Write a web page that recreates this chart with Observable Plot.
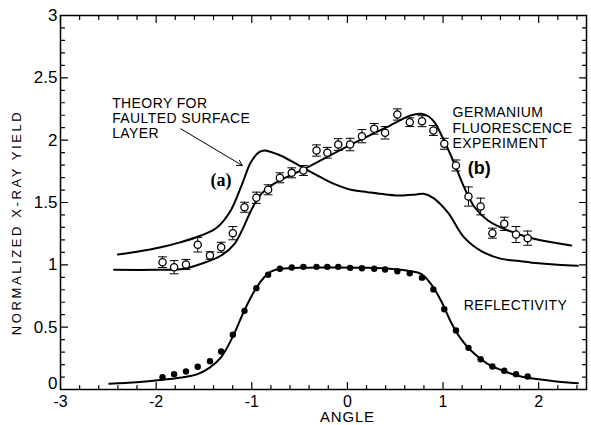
<!DOCTYPE html>
<html><head><meta charset="utf-8">
<script src="https://cdn.jsdelivr.net/npm/d3@7"></script>
<script src="https://cdn.jsdelivr.net/npm/@observablehq/plot@0.6"></script>
<style>
body{margin:0;background:#fff;}
#chart{width:591px;height:425px;}
</style></head><body><div id="chart"></div>
<script>
// measured angles of the experimental points
const expAngle = [-1.933,-1.812,-1.688,-1.565,-1.437,-1.32,-1.198,-1.076,-0.952,-0.829,-0.706,-0.582,-0.46,-0.323,-0.21,-0.096,0.028,0.152,0.28,0.394,0.522,0.652,0.78,0.899,1.013,1.135,1.266,1.393,1.516,1.64,1.763,1.885];
// germanium fluorescence (open circles) and error
const fluorYield = [1.021,0.981,1.003,1.161,1.075,1.141,1.254,1.462,1.538,1.602,1.698,1.738,1.757,1.917,1.899,1.965,1.965,2.032,2.091,2.059,2.206,2.144,2.152,2.078,1.971,1.797,1.548,1.468,1.254,1.329,1.243,1.214];
const fluorErr = [0.043,0.053,0.04,0.058,0.03,0.04,0.053,0.04,0.045,0.04,0.04,0.04,0.04,0.045,0.043,0.047,0.05,0.053,0.043,0.05,0.045,0.035,0.044,0.04,0.044,0.044,0.077,0.067,0.04,0.053,0.064,0.057];
// reflectivity (filled dots)
const reflYield = [0.099,0.123,0.144,0.182,0.227,0.305,0.439,0.631,0.813,0.92,0.968,0.979,0.984,0.984,0.984,0.984,0.976,0.973,0.968,0.962,0.949,0.933,0.897,0.803,0.644,0.473,0.334,0.243,0.184,0.150,0.123,0.104];

// theory curve for reflectivity
const reflCurveX = [-2.49,-2.2,-1.93,-1.7,-1.56,-1.44,-1.32,-1.195,-1.08,-0.954,-0.87,-0.8,-0.7,-0.5,-0.2,0.2,0.5,0.65,0.77,0.873,0.978,1.083,1.187,1.292,1.466,1.64,1.815,2.163,2.41];
const reflCurveY = [0.046,0.058,0.078,0.1,0.125,0.175,0.26,0.43,0.63,0.813,0.9,0.945,0.968,0.976,0.978,0.976,0.965,0.95,0.928,0.848,0.714,0.54,0.406,0.313,0.206,0.147,0.104,0.067,0.051];
// theory (b) germanium fluorescence
const fluorCurveX = [-2.44,-2.0,-1.71,-1.53,-1.32,-1.18,-1.1,-1.04,-0.97,-0.9,-0.77,-0.56,-0.46,0,0.4,0.66,0.77,0.85,0.91,1.01,1.12,1.22,1.33,1.47,1.68,1.95,2.34];
const fluorCurveY = [0.96,0.96,0.968,1.008,1.075,1.169,1.28,1.382,1.49,1.57,1.65,1.73,1.765,1.95,2.1,2.198,2.211,2.19,2.144,1.997,1.81,1.623,1.462,1.356,1.275,1.209,1.155];
// theory (a) faulted surface layer
const faultCurveX = [-2.4,-2.2,-1.95,-1.75,-1.53,-1.36,-1.22,-1.1,-1.01,-0.93,-0.87,-0.8,-0.7,-0.49,-0.28,-0.14,0.05,0.21,0.4,0.56,0.72,0.8,0.9,1.05,1.22,1.4,1.6,1.8,2.0,2.2,2.41];
const faultCurveY = [1.083,1.105,1.141,1.18,1.235,1.302,1.436,1.65,1.823,1.9,1.917,1.905,1.877,1.79,1.703,1.65,1.6,1.583,1.565,1.556,1.565,1.57,1.535,1.42,1.22,1.11,1.05,1.03,1.012,1.0,0.992];

const xTickLabels = [-3,-2,-1,0,1,2];
const yTickLabels = [0,0.5,1,1.5,2,2.5,3];

const noteText = ["THEORY FOR","FAULTED SURFACE","LAYER","GERMANIUM","FLUORESCENCE","EXPERIMENT","REFLECTIVITY"];
const noteX = [-2.46,-2.46,-2.46,1.1,1.1,1.1,1.216];
const noteY = [2.295,2.172,2.051,2.222,2.097,1.971,0.674];
const arrowFrom = [-1.742,2.091];
const arrowTo = [-1.099,1.797];
const yTitle = "NORMALIZED X-RAY YIELD";
const yTitlePos = [-3.457, 1.34];
const xTitle = "ANGLE";
const xTitlePos = [0, -0.225];

const pts = expAngle.map((a,i)=>({a, f: fluorYield[i], e: fluorErr[i], r: reflYield[i]}));
const line = (xs, ys) => xs.map((x,i)=>({x, y: ys[i]}));

const xMinor = d3.range(-3, 2.51, 0.2).map(v=>+v.toFixed(2)).filter(v=>Math.abs(v - Math.round(v))>1e-6);
const yMinor = d3.range(0, 3.001, 0.1).map(v=>+v.toFixed(2)).filter(v=>Math.abs(v*2 - Math.round(v*2))>1e-6);

const tickShape = {draw(ctx, l){ ctx.moveTo(0,0); ctx.lineTo(0,-l); }};
const capShape = {draw(ctx, l){ ctx.moveTo(0,-l/2); ctx.lineTo(0,l/2); }};
function ticks(vals, side, len){
  const o = {length: len, anchor: "start", shape: tickShape, strokeWidth: 1.2};
  if (side==="bottom") return Plot.vector(vals, {x: d=>d, y: 0, rotate: 0, ...o});
  if (side==="top") return Plot.vector(vals, {x: d=>d, y: 3, rotate: 180, ...o});
  if (side==="left") return Plot.vector(vals, {x: -3, y: d=>d, rotate: 90, ...o});
  return Plot.vector(vals, {x: 2.5, y: d=>d, rotate: -90, ...o});
}

const font = "'Liberation Sans', Arial, sans-serif";
const chart = Plot.plot({
  width: 591, height: 425,
  marginLeft: 60, marginRight: 5, marginTop: 15, marginBottom: 36,
  style: {fontFamily: font, background: "#fff", color: "#000"},
  x: {domain: [-3, 2.5]},
  y: {domain: [0, 3]},
  marks: [
    Plot.frame({stroke: "#000", strokeWidth: 1.5}),
    ticks(xTickLabels, "bottom", 7), ticks(xMinor, "bottom", 4),
    ticks(xTickLabels, "top", 7), ticks(xMinor, "top", 4),
    ticks(yTickLabels, "left", 7), ticks(yMinor, "left", 4),
    ticks(yTickLabels, "right", 7), ticks(yMinor, "right", 4),
    Plot.axisX({ticks: xTickLabels, tickSize: 0, tickPadding: 6, fontSize: 16, label: null, tickFormat: d => d < 0 ? "-" + (-d) : String(d)}),
    Plot.axisY({ticks: yTickLabels.filter(d=>d!==0), tickSize: 0, tickPadding: 3, fontSize: 17, label: null, tickFormat: d => String(d)}),
    Plot.text(yTickLabels.filter(d=>d===0), {x: -3, y: d=>d, text: d=>String(d), dx: -3, dy: -6, textAnchor: "end", fontSize: 17, fill: "#000"}),
    Plot.line(line(reflCurveX, reflCurveY), {x: "x", y: "y", curve: "catmull-rom", strokeWidth: 2, stroke: "#000"}),
    Plot.line(line(fluorCurveX, fluorCurveY), {x: "x", y: "y", curve: "catmull-rom", strokeWidth: 2, stroke: "#000"}),
    Plot.line(line(faultCurveX, faultCurveY), {x: "x", y: "y", curve: "catmull-rom", strokeWidth: 2, stroke: "#000"}),
    Plot.ruleX(pts, {x: "a", y1: d=>d.f-d.e, y2: d=>d.f+d.e, stroke: "#000", strokeWidth: 1}),
    Plot.vector(pts, {x: "a", y: d=>d.f+d.e, rotate: 90, length: 8, anchor: "start", shape: capShape, strokeWidth: 1}),
    Plot.vector(pts, {x: "a", y: d=>d.f-d.e, rotate: 90, length: 8, anchor: "start", shape: capShape, strokeWidth: 1}),
    Plot.dot(pts, {x: "a", y: "f", r: 3.6, fill: "#fff", stroke: "#000", strokeWidth: 1.3}),
    Plot.dot(pts, {x: "a", y: "r", r: 3.2, fill: "#000", stroke: "none"}),
    Plot.text(noteText, {x: (d,i)=>noteX[i], y: (d,i)=>noteY[i], text: d=>d, textAnchor: "start", fontSize: 14, fill: "#000"}),
    Plot.arrow([0], {x1: arrowFrom[0], y1: arrowFrom[1], x2: arrowTo[0], y2: arrowTo[1], stroke: "#000", strokeWidth: 1, headLength: 9}),
    Plot.text(["(a)"], {x: -1.323, y: 1.676, text: d=>d, fontSize: 18, fontWeight: "bold", fontFamily: "'Liberation Serif', serif", fill: "#000"}),
    Plot.text(["(b)"], {x: 1.379, y: 1.778, text: d=>d, fontSize: 18, fontWeight: "bold", fill: "#000"}),
    Plot.text([yTitle], {x: yTitlePos[0], y: yTitlePos[1], rotate: -90, text: d=>d, fontSize: 13, fill: "#000"}),
    Plot.text([xTitle], {x: xTitlePos[0], y: xTitlePos[1], text: d=>d, fontSize: 15, fill: "#000"})
  ]
});
d3.select(chart).selectAll("text").filter(function(){ return this.textContent === yTitle; }).style("letter-spacing", "2.6px");
d3.select(chart).selectAll("text").filter(function(){ return noteText.includes(this.textContent); }).style("letter-spacing", "0.4px");
d3.select(chart).selectAll("text").filter(function(){ return this.textContent === xTitle; }).style("letter-spacing", "0.8px");
document.getElementById("chart").appendChild(chart);
</script></body></html>
